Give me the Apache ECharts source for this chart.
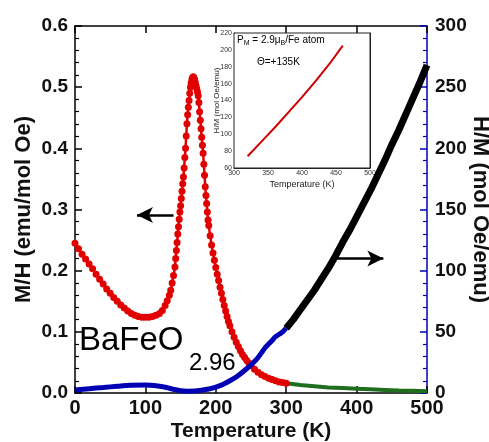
<!DOCTYPE html>
<html>
<head>
<meta charset="utf-8">
<script src="https://cdn.jsdelivr.net/npm/echarts@6/dist/echarts.min.js"></script>
<style>
html,body{margin:0;padding:0;background:#fff;}
#chart{width:489px;height:442px;}
</style>
</head>
<body>
<div id="chart"></div>
<script>
// M/H (left axis), 0-300 K, red
var redData = [[0,0.245],[5,0.236],[10,0.227],[15,0.219],[20,0.211],[25,0.203],[30,0.194],[35,0.186],[40,0.178],[45,0.170],[50,0.163],[55,0.156],[60,0.150],[65,0.144],[70,0.139],[75,0.134],[80,0.130],[85,0.127],[90,0.125],[95,0.124],[100,0.124],[105,0.124],[110,0.125],[115,0.127],[120,0.130],[124,0.135],[128,0.143],[131,0.151],[134,0.160],[136,0.168],[138,0.180],[140,0.192],[142,0.206],[143,0.220],[144,0.233],[145,0.246],[146,0.260],[147,0.272],[148,0.284],[149,0.296],[150,0.306],[151,0.318],[152,0.330],[153,0.342],[154,0.353],[155,0.368],[156,0.385],[157,0.400],[158,0.420],[159,0.440],[160,0.455],[161,0.467],[162,0.478],[163,0.490],[164,0.500],[165,0.507],[166,0.512],[167,0.516],[168,0.517],[169,0.515],[170,0.512],[171,0.507],[172,0.502],[173,0.497],[174,0.492],[175,0.486],[176,0.475],[177,0.460],[178,0.446],[179,0.432],[180,0.418],[181,0.405],[182,0.392],[183,0.374],[184,0.356],[185,0.337],[186,0.323],[187,0.310],[188,0.296],[189,0.283],[190,0.274],[192,0.257],[194,0.242],[196,0.229],[198,0.217],[200,0.205],[202,0.194],[204,0.184],[206,0.173],[208,0.163],[210,0.153],[212,0.143],[214,0.134],[216,0.125],[218,0.117],[220,0.110],[223,0.100],[226,0.091],[229,0.083],[232,0.076],[235,0.069],[238,0.063],[241,0.058],[244,0.053],[247,0.049],[250,0.045],[255,0.039],[260,0.034],[265,0.030],[270,0.027],[275,0.024],[280,0.022],[285,0.020],[290,0.018],[295,0.017],[300,0.016]];
// M/H (left axis), 300-500 K, green
var greenData = [[300,0.016],[320,0.013],[340,0.011],[360,0.009],[380,0.008],[400,0.007],[420,0.006],[440,0.005],[460,0.004],[480,0.0035],[500,0.003]];
// H/M (right axis), 0-300 K, blue
var blueData = [[0,2.5],[20,3.5],[40,4.5],[60,5.5],[80,6.3],[100,6.5],[120,5.5],[130,4.5],[140,3.0],[150,1.8],[160,1.5],[170,1.6],[180,2.3],[190,3.3],[200,4.8],[210,7.0],[220,10.0],[230,13.5],[240,18.0],[250,23.0],[260,29.0],[265,33.0],[270,37.0],[275,40.0],[280,43.0],[285,46.0],[290,48.0],[295,50.0],[300,53.0]];
// H/M (right axis), 300-500 K, black
var blackData = [[300,53],[310,60],[320,68],[330,76],[340,84],[350,93],[360,102],[370,112],[380,123],[390,133],[400,144],[410,155],[420,166],[430,178],[440,190],[450,203],[460,215],[470,228],[480,241],[490,254],[500,268]];
// inset H/M vs T
var insetData = [[320,74],[340,91],[360,108],[380,126],[400,144],[420,163],[440,183],[460,205]];

var xTicks = {min:0, max:500, interval:100};
var yLeft = {min:0, max:0.6, interval:0.1};
var yRight = {min:0, max:300, interval:50};
var insetX = {min:300, max:500, interval:50};
var insetY = {min:60, max:220, interval:20};

var FONT = '"Liberation Sans", Arial, sans-serif';
var chart = echarts.init(document.getElementById('chart'));

var lblStyle = {color:'#111', fontFamily:FONT, fontWeight:'bold', fontSize:19};
var nameStyle = {color:'#111', fontFamily:FONT, fontWeight:'bold', fontSize:21};

chart.setOption({
  animation:false,
  backgroundColor:'#fff',
  grid:[
    {left:75, right:62, top:26, bottom:49, containLabel:false, outerBoundsMode:'none'},
    {left:234, right:119, top:33, bottom:274, containLabel:false, outerBoundsMode:'none', show:true, backgroundColor:'#fff', borderColor:'#222', borderWidth:1, z:10}
  ],
  xAxis:[
    {gridIndex:0, type:'value', position:'bottom', min:xTicks.min, max:xTicks.max, interval:xTicks.interval,
     axisLine:{show:true, onZero:false, lineStyle:{color:'#000', width:1.5}},
     axisTick:{show:true, inside:true, length:7, lineStyle:{color:'#000', width:1.5}},
     axisLabel:Object.assign({}, lblStyle, {margin:5, fontSize:20}),
     splitLine:{show:false},
     name:'Temperature (K)', nameLocation:'middle', nameGap:28, nameMoveOverlap:false, nameTextStyle:nameStyle},
    {gridIndex:0, type:'value', position:'top', min:xTicks.min, max:xTicks.max, interval:xTicks.interval,
     axisLine:{show:true, onZero:false, lineStyle:{color:'#000', width:1.5}},
     axisTick:{show:true, inside:true, length:7, lineStyle:{color:'#000', width:1.5}},
     axisLabel:{show:false}, splitLine:{show:false}},
    {gridIndex:1, type:'value', position:'bottom', min:insetX.min, max:insetX.max, interval:insetX.interval,
     axisLine:{show:true, onZero:false, lineStyle:{color:'#222', width:1}},
     axisTick:{show:true, inside:true, length:3, lineStyle:{color:'#222'}},
     minorTick:{show:true, splitNumber:2, length:2, lineStyle:{color:'#222'}},
     axisLabel:{margin:2, fontSize:7, color:'#333', fontFamily:FONT},
     splitLine:{show:false},
     name:'Temperature (K)', nameLocation:'middle', nameGap:12, nameMoveOverlap:false, nameTextStyle:{fontSize:9, color:'#222', fontFamily:FONT}},
    {gridIndex:1, type:'value', position:'top', min:insetX.min, max:insetX.max, interval:insetX.interval,
     axisLine:{show:true, onZero:false, lineStyle:{color:'#222', width:1}},
     axisTick:{show:true, inside:true, length:3, lineStyle:{color:'#222'}},
     axisLabel:{show:false}, splitLine:{show:false}}
  ],
  yAxis:[
    {gridIndex:0, type:'value', position:'left', min:yLeft.min, max:yLeft.max, interval:yLeft.interval,
     axisLine:{show:true, onZero:false, lineStyle:{color:'#000', width:1.5}},
     axisTick:{show:true, inside:true, length:7, lineStyle:{color:'#000', width:1.5}},
     minorTick:{show:true, splitNumber:5, length:4, lineStyle:{color:'#000', width:1.2}},
     axisLabel:Object.assign({margin:7, formatter:function(v){return v.toFixed(1);}}, lblStyle),
     splitLine:{show:false}, minorSplitLine:{show:false},
     name:'M/H (emu/mol Oe)', nameLocation:'middle', nameGap:40, nameMoveOverlap:false, nameRotate:90, nameTextStyle:Object.assign({}, nameStyle, {fontSize:22})},
    {gridIndex:0, type:'value', position:'right', min:yRight.min, max:yRight.max, interval:yRight.interval,
     axisLine:{show:true, onZero:false, lineStyle:{color:'#0000b4', width:1.5}},
     axisTick:{show:true, inside:true, length:7, lineStyle:{color:'#0000b4', width:1.5}},
     minorTick:{show:true, splitNumber:5, length:4, lineStyle:{color:'#0000b4', width:1.2}},
     axisLabel:Object.assign({margin:8}, lblStyle),
     splitLine:{show:false}, minorSplitLine:{show:false},
     name:'H/M (mol Oe/emu)', nameLocation:'middle', nameGap:42, nameMoveOverlap:false, nameRotate:-90, nameTextStyle:Object.assign({}, nameStyle, {fontSize:22})},
    {gridIndex:1, type:'value', position:'left', min:insetY.min, max:insetY.max, interval:insetY.interval,
     axisLine:{show:true, onZero:false, lineStyle:{color:'#222', width:1}},
     axisTick:{show:true, inside:true, length:3, lineStyle:{color:'#222'}},
     axisLabel:{margin:2, fontSize:7, color:'#333', fontFamily:FONT},
     splitLine:{show:false},
     name:'H/M (mol Oe/emu)', nameLocation:'middle', nameGap:13, nameMoveOverlap:false, nameRotate:90, nameTextStyle:{fontSize:8, color:'#222', fontFamily:FONT}},
    {gridIndex:1, type:'value', position:'right', min:insetY.min, max:insetY.max, interval:insetY.interval,
     axisLine:{show:true, onZero:false, lineStyle:{color:'#222', width:1}},
     axisTick:{show:true, inside:true, length:3, lineStyle:{color:'#222'}},
     axisLabel:{show:false}, splitLine:{show:false}}
  ],
  series:[
    {type:'line', name:'M/H low', xAxisIndex:0, yAxisIndex:0, data:redData, z:3,
     symbol:'circle', symbolSize:7, showSymbol:true,
     itemStyle:{color:'#e00000'}, lineStyle:{color:'#e00000', width:2.5},
     markLine:{silent:true, symbol:['none','arrow'], symbolSize:[12,16], label:{show:false},
       lineStyle:{color:'#000', width:2.5, type:'solid'},
       data:[[{coord:[140,0.291]},{coord:[88,0.291]}]]}},
    {type:'line', name:'M/H high', xAxisIndex:0, yAxisIndex:0, data:greenData, z:3,
     symbol:'none', lineStyle:{color:'#1e6e1e', width:4}},
    {type:'line', name:'H/M low', xAxisIndex:0, yAxisIndex:1, data:blueData, z:4,
     symbol:'none', smooth:0.3, lineStyle:{color:'#0000b4', width:5}},
    {type:'line', name:'H/M high', xAxisIndex:0, yAxisIndex:1, data:blackData, z:5,
     symbol:'none', lineStyle:{color:'#000', width:7},
     markLine:{silent:true, symbol:['none','arrow'], symbolSize:[12,16], label:{show:false},
       lineStyle:{color:'#000', width:2.5, type:'solid'},
       data:[[{coord:[369,110]},{coord:[438,110]}]]}},
    {type:'line', name:'inset', xAxisIndex:2, yAxisIndex:2, data:insetData, z:12,
     symbol:'none', lineStyle:{color:'#d00000', width:2}}
  ],
  graphic:[
    {type:'text', left:79, top:324, z:20, style:{text:'BaFeO', fontSize:33, fontFamily:FONT, fill:'#000'}},
    {type:'text', left:189, top:351, z:20, style:{text:'2.96', fontSize:24, fontFamily:FONT, fill:'#000'}},
    {type:'text', left:237, top:35, z:20, style:{
      text:'{a|P}{s|M}{a| = 2.9\u03bc}{s|B}{a|/Fe atom}',
      rich:{a:{fontSize:10, fontFamily:FONT, fill:'#000', color:'#000'}, s:{fontSize:7, fontFamily:FONT, color:'#000', padding:[6,0,0,0]}}}},
    {type:'text', left:257, top:57, z:20, style:{text:'\u0398=+135K', fontSize:10, fontFamily:FONT, fill:'#000'}}
  ]
});
</script>
</body>
</html>
